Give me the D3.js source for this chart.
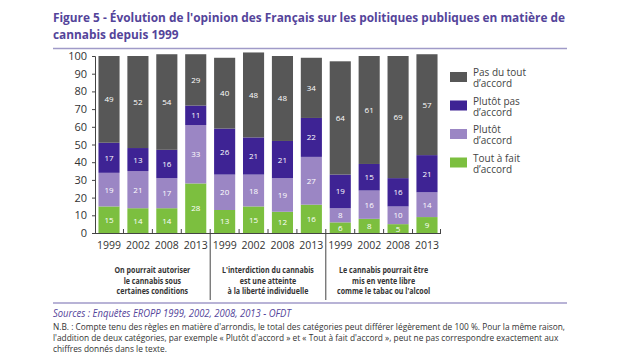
<!DOCTYPE html>
<html><head><meta charset="utf-8">
<script src="https://cdn.jsdelivr.net/npm/d3@7"></script>
<style>body{margin:0;background:#fff}svg{display:block}</style>
</head><body><svg id="c" width="630" height="360"></svg>
<script>
const groups = ["On pourrait autoriser|le cannabis sous|certaines conditions",
                "L'interdiction du cannabis|est une atteinte|à la liberté individuelle",
                "Le cannabis pourrait être|mis en vente libre|comme le tabac ou l'alcool"];
const years = ["1999","2002","2008","2013"];
const series = ["Tout à fait d'accord","Plutôt d'accord","Plutôt pas d'accord","Pas du tout d'accord"];
const legendLabels = ["Pas du tout|d’accord","Plutôt pas|d’accord","Plutôt|d’accord","Tout à fait|d’accord"];
// values per bar, order: group1 years, group2 years, group3 years
const toutAFait = [15,14,14,28, 13,15,12,16, 6,8,5,9];
const plutot    = [19,21,17,33, 20,18,19,27, 8,16,10,14];
const plutotPas = [17,13,16,11, 26,21,21,22, 19,15,16,21];
const pasDuTout = [49,52,54,29, 40,48,48,34, 64,61,69,57];
const yTicks = [0,10,20,30,40,50,60,70,80,90,100];
const title = ["Figure 5 - Évolution de l'opinion des Français sur les politiques publiques en matière de","cannabis depuis 1999"];
const source = "Sources : Enquêtes EROPP 1999, 2002, 2008, 2013 - OFDT";
const note = ["N.B. : Compte tenu des règles en matière d'arrondis, le total des catégories peut différer légèrement de 100 %. Pour la même raison,",
  "l'addition de deux catégories, par exemple « Plutôt d'accord » et « Tout à fait d'accord », peut ne pas correspondre exactement aux",
  "chiffres donnés dans le texte."];

const colors = ["#7cbf3f","#9b86c4","#3e2394","#575757"];
const seriesData = [toutAFait, plutot, plutotPas, pasDuTout];
const font = "'Open Sans', sans-serif";
const svg = d3.select("#c");

function condense(sel, k){
  sel.each(function(){ const w=this.getComputedTextLength(); d3.select(this).attr("textLength",w*k).attr("lengthAdjust","spacingAndGlyphs"); });
}

const bars = [];
groups.forEach((g,gi)=>years.forEach((yr,yi)=>bars.push({key:gi+"-"+yr, year:yr, g:gi, i:gi*4+yi})));

const x = d3.scaleBand().domain(bars.map(b=>b.key)).range([95,441]).paddingInner(0.27).paddingOuter(0.12);
const y = d3.scaleLinear().domain([0,100]).range([233,56]);

// Title
const purple = "#54449a";
const t1 = svg.append("text").attr("x",53).attr("y",22).attr("font-family",font).attr("font-weight","bold")
  .attr("font-size",12.5).attr("fill",purple).text(title[0]);
const t2 = svg.append("text").attr("x",53).attr("y",39).attr("font-family",font).attr("font-weight","bold")
  .attr("font-size",12.5).attr("fill",purple).text(title[1]);
const tk = 512/t1.node().getComputedTextLength();
condense(t1,tk); condense(t2,tk);
svg.append("line").attr("x1",53).attr("x2",567).attr("y1",48.5).attr("y2",48.5).attr("stroke","#a09ac8").attr("stroke-width",1.5);

// Bars
bars.forEach(b=>{
  let acc=0;
  seriesData.forEach((s,si)=>{
    const v=s[b.i];
    const y0=y(acc), y1=y(acc+v);
    svg.append("rect").attr("x",x(b.key)).attr("width",x.bandwidth()).attr("y",y1).attr("height",y0-y1).attr("fill",colors[si]);
    svg.append("text").attr("x",x(b.key)+x.bandwidth()/2).attr("y",(y0+y1)/2+3).attr("text-anchor","middle")
      .attr("font-family",font).attr("font-size",8).attr("fill","#fff").text(v);
    acc+=v;
  });
});

// Y axis
const yAxis = svg.append("g").attr("transform","translate(95,0)")
  .call(d3.axisLeft(y).tickValues(yTicks).tickSize(3).tickPadding(5));
yAxis.select(".domain").attr("stroke","#444");
yAxis.selectAll(".tick line").attr("stroke","#444");
yAxis.selectAll("text").attr("font-family",font).attr("font-size",11).attr("fill","#333");

// X axis baseline with upward ticks at band boundaries
svg.append("line").attr("x1",95).attr("x2",441).attr("y1",233.5).attr("y2",233.5).attr("stroke","#444");
const step = x.step();
bars.forEach((b,i)=>{
  if(i%4===3) return;
  const bx = x(b.key)+x.bandwidth()+ (step-x.bandwidth())/2;
  svg.append("line").attr("x1",bx).attr("x2",bx).attr("y1",233).attr("y2",229).attr("stroke","#444");
});
svg.append("line").attr("x1",440.5).attr("x2",440.5).attr("y1",233).attr("y2",229).attr("stroke","#444");

// Year labels
bars.forEach(b=>{
  svg.append("text").attr("x",x(b.key)+x.bandwidth()/2).attr("y",249).attr("text-anchor","middle")
    .attr("font-family",font).attr("font-size",10.5).attr("fill","#333").text(b.year);
});

// Group separators and labels
groups.forEach((g,gi)=>{
  const first=bars[gi*4], last=bars[gi*4+3];
  const cx=(x(first.key)+x(last.key)+x.bandwidth())/2;
  g.split("|").forEach((ln,li)=>{
    const t = svg.append("text").attr("x",cx).attr("y",273+li*10.5).attr("text-anchor","middle")
      .attr("font-family",font).attr("font-weight","bold").attr("font-size",8.6).attr("fill","#333").text(ln);
    condense(t,0.82);
  });
  if(gi>0){
    const sx = x(first.key) - (step-x.bandwidth())/2;
    svg.append("line").attr("x1",sx).attr("x2",sx).attr("y1",229).attr("y2",300).attr("stroke","#444");
  }
});

// Legend
legendLabels.forEach((l,li)=>{
  const ly=72+li*28.5;
  svg.append("rect").attr("x",450).attr("y",ly).attr("width",17).attr("height",10).attr("fill",colors[3-li]);
  l.split("|").forEach((t,ti)=>{
    svg.append("text").attr("x",473).attr("y",ly+4+ti*11).attr("font-family",font).attr("font-size",10)
      .attr("fill","#444").text(t);
  });
});

// Bottom rule, sources, note
svg.append("line").attr("x1",53).attr("x2",567).attr("y1",303).attr("y2",303).attr("stroke","#a09ac8").attr("stroke-width",1.5);
const st = svg.append("text").attr("x",53).attr("y",317).attr("font-family",font).attr("font-style","italic")
  .attr("font-size",10).attr("fill",purple).text(source);
condense(st, 238/st.node().getComputedTextLength());
const n0 = svg.append("text").attr("x",53).attr("y",330).attr("font-family",font).attr("font-size",8.5)
    .attr("fill","#333").text(note[0]);
const nk = 512/n0.node().getComputedTextLength();
condense(n0,nk);
note.slice(1).forEach((t,i)=>{
  const n = svg.append("text").attr("x",53).attr("y",341+i*11).attr("font-family",font).attr("font-size",8.5)
    .attr("fill","#333").text(t);
  condense(n,nk);
});
</script></body></html>
